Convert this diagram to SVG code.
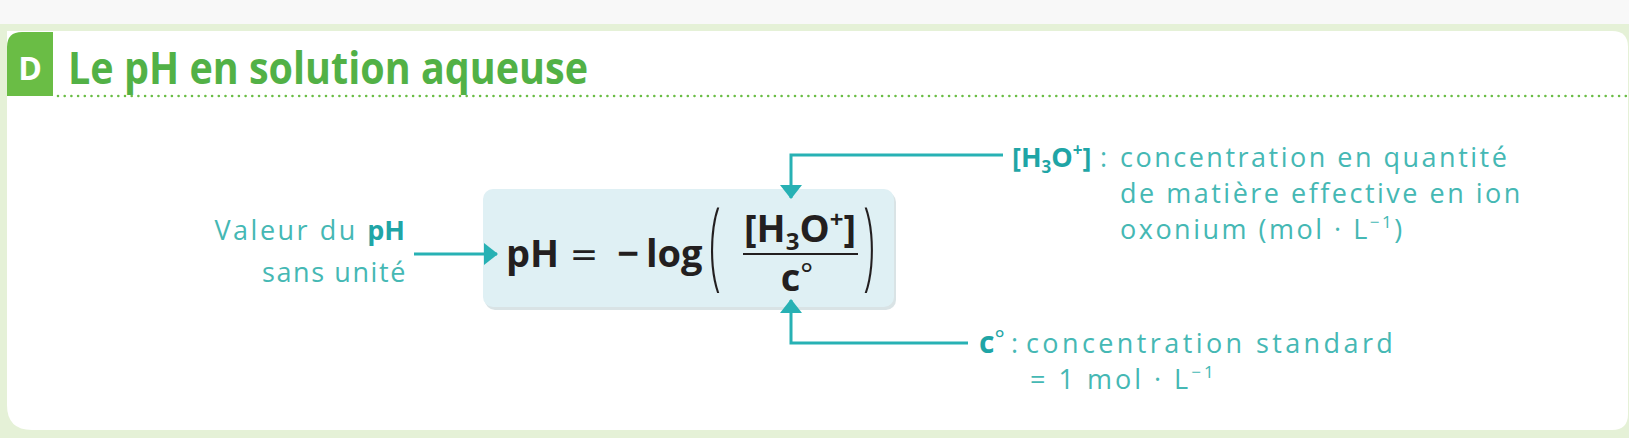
<svg xmlns="http://www.w3.org/2000/svg" width="1629" height="438" viewBox="0 0 1629 438">
  <defs>
    <style>
      .lbl { font-family: "Open Sans", "Noto Sans", sans-serif; font-size: 27px; fill: #45b8b4; letter-spacing: 2.5px; }
      .lblb { font-family: "Open Sans", "Noto Sans", sans-serif; font-weight: 700; fill: #1fa5a6; letter-spacing: 0; }
      .fx { font-family: "Open Sans", "Noto Sans", sans-serif; font-weight: 700; font-size: 38px; fill: #231f20; }
      .par { font-family: "Open Sans", "Noto Sans", sans-serif; font-weight: 300; font-size: 70px; fill: #231f20; }
      .conn { fill: none; stroke: #27b1b4; stroke-width: 3; }
    </style>
    <marker id="ah" viewBox="0 0 14 22" refX="13" refY="11" markerWidth="14" markerHeight="22" orient="auto" markerUnits="userSpaceOnUse">
      <path d="M0,0 L14,11 L0,22 Z" fill="#27b1b4"/>
    </marker>
  </defs>

  <g id="background">
    <rect x="0" y="0" width="1629" height="438" fill="#e5f1d7"/>
    <rect x="0" y="0" width="1629" height="24" fill="#f8f8f8"/>
    <path d="M7,31 H1612 Q1628,31 1628,47 V414 Q1628,430 1612,430 H32 Q7,430 7,405 Z" fill="#ffffff"/>
  </g>

  <g id="header">
    <path d="M7,96 V47 Q7,32 22,32 H53 V96 Z" fill="#6abd45"/>
    <text x="30" y="80" text-anchor="middle" font-family="Open Sans, Noto Sans, sans-serif" font-weight="700" font-size="32" fill="#ffffff">D</text>
    <text x="68" y="84" font-family="Open Sans, Noto Sans, sans-serif" font-weight="700" font-size="44" fill="#52b146" textLength="520" lengthAdjust="spacingAndGlyphs">Le pH en solution aqueuse</text>
    <line x1="58" y1="96" x2="1626" y2="96" stroke="#6abd45" stroke-width="2.6" stroke-linecap="round" stroke-dasharray="0 6.7"/>
  </g>

  <g id="formula-box">
    <rect x="485" y="192" width="411" height="118" rx="10" fill="#c9d7da" opacity="0.7"/>
    <rect x="483" y="189" width="411" height="118" rx="10" fill="#dff0f4"/>
    <text class="fx" x="506" y="267">pH</text>
    <text x="584" y="266" text-anchor="middle" font-family="DejaVu Sans, sans-serif" font-size="34" fill="#231f20">=</text>
    <text class="fx" x="628" y="267" text-anchor="middle">−</text>
    <text class="fx" x="646" y="267">log</text>
    <text class="par" transform="translate(715,253) scale(0.6,1.4)" x="0" y="18" text-anchor="middle">(</text>
    <text class="fx" x="800" y="242" text-anchor="middle">[H<tspan font-size="24" dy="8">3</tspan><tspan dy="-8">O</tspan><tspan font-size="24" dy="-14">+</tspan><tspan dy="14">]</tspan></text>
    <line x1="743" y1="254" x2="858" y2="254" stroke="#231f20" stroke-width="2.2"/>
    <text class="fx" x="797" y="291" text-anchor="middle">c<tspan font-weight="400" font-size="30" dy="-7">°</tspan></text>
    <text class="par" transform="translate(869,253) scale(0.6,1.4)" x="0" y="18" text-anchor="middle">)</text>
  </g>

  <g id="label-ph">
    <text class="lbl" x="405" y="240" text-anchor="end">Valeur du <tspan class="lblb">pH</tspan></text>
    <text class="lbl" x="407" y="282" text-anchor="end" style="letter-spacing:1.6px">sans unité</text>
  </g>

  <g id="label-h3o">
    <text class="lblb" x="1012" y="167" font-size="27">[H<tspan font-size="17" dy="6">3</tspan><tspan dy="-6">O</tspan><tspan font-size="17" dy="-11">+</tspan><tspan dy="11">]</tspan></text>
    <text class="lbl" x="1100" y="167">:</text>
    <text class="lbl" x="1120" y="167">concentration en quantité</text>
    <text class="lbl" x="1120" y="203">de matière effective en ion</text>
    <text class="lbl" x="1120" y="239">oxonium (mol · L<tspan font-size="17" dy="-11">−1</tspan><tspan dy="11">)</tspan></text>
  </g>

  <g id="label-c0">
    <text class="lblb" x="979" y="353" font-size="30">c<tspan font-weight="400" font-size="24" dy="-6">°</tspan></text>
    <text class="lbl" x="1011" y="353">:</text>
    <text class="lbl" x="1026" y="353" style="letter-spacing:3.4px">concentration standard</text>
    <text class="lbl" x="1030" y="389" style="letter-spacing:3px">= 1 mol · L<tspan font-size="17" dy="-11">−1</tspan></text>
  </g>

  <g id="connectors">
    <path class="conn" d="M414,254 H497" marker-end="url(#ah)"/>
    <path class="conn" d="M1003,155 H791 V198" marker-end="url(#ah)"/>
    <path class="conn" d="M968,343 H791 V300" marker-end="url(#ah)"/>
  </g>
</svg>
